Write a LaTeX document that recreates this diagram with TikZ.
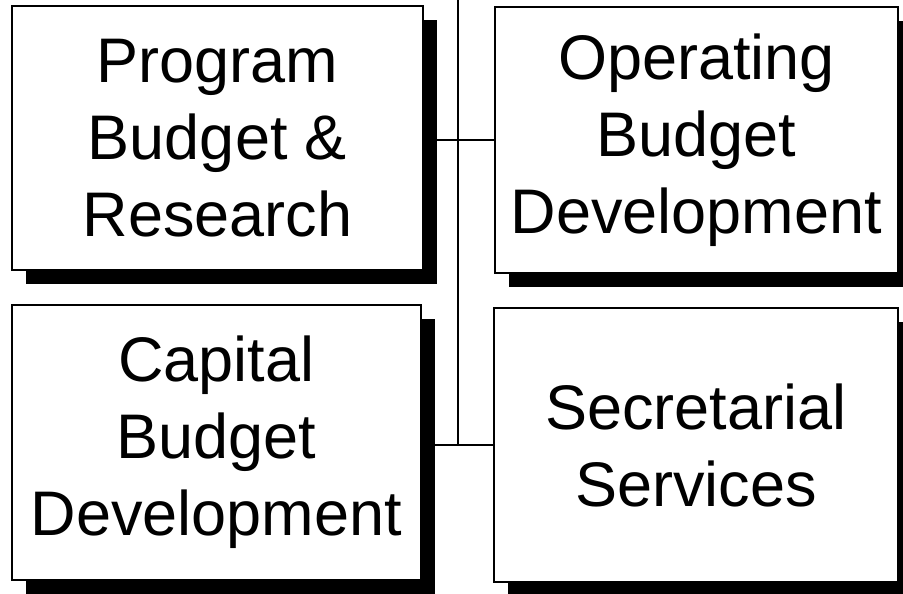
\documentclass[tikz,border=0pt]{standalone}
\usepackage{fontspec}
\setmainfont{Liberation Sans}
\usetikzlibrary{shadows}
\tikzset{
  unitbox/.style={draw, line width=1.5pt, fill=white, inner sep=0pt, align=center,
    font=\fontsize{63}{77}\selectfont,
    drop shadow={shadow xshift=14pt, shadow yshift=-14pt, fill=black, opacity=1}},
  link/.style={line width=1.3pt}
}
\begin{document}
\begin{tikzpicture}[x=1pt,y=-1pt]
				\useasboundingbox (0,0) rectangle (903,594);
				% Các ô đơn vị
				\node[unitbox, minimum width=411pt, minimum height=264pt] (prog) at (217.5,138) {Program\\Budget \&\\Research};
				\node[unitbox, minimum width=403pt, minimum height=266pt] (oper) at (696.5,140) {Operating\\Budget\\Development};
				\node[unitbox, minimum width=409pt, minimum height=275pt] (capi) at (216.5,442.5) {Capital\\Budget\\Development};
				\node[unitbox, minimum width=404pt, minimum height=274pt] (secr) at (696,445) {Secretarial\\Services};
				
				% Đường nối
				\coordinate (top) at (458,0);
				\draw[link] (top) -- (top |- secr.west);
				\draw[link] (oper.west) -- (oper.west -| prog.east);
				\draw[link] (secr.west) -- (secr.west -| capi.east);
			\end{tikzpicture}
\end{document}
